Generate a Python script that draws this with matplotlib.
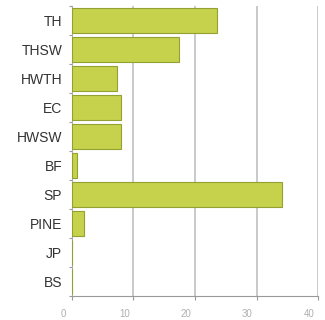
import matplotlib
matplotlib.use("Agg")
import matplotlib.pyplot as plt
import matplotlib.transforms as mtransforms
import numpy as np

categories = ["TH", "THSW", "HWTH", "EC", "HWSW", "BF", "SP", "PINE", "JP", "BS"]
values = [23.6, 17.4, 7.3, 8.0, 7.9, 0.8, 34.1, 1.9, 0.0, 0.0]
x_ticks = [0, 10, 20, 30, 40]

plt.rcParams["font.family"] = ["Liberation Sans", "DejaVu Sans"]

fig = plt.figure(figsize=(3.25, 3.2), dpi=100)
ax = fig.add_axes([0.2215, 0.075, 0.757, 0.906])

y = np.arange(len(categories))
ax.barh(y, values, height=0.88, color="#c6d24c", edgecolor="#93a132",
        linewidth=0.8, zorder=3)

ax.set_ylim(len(categories) - 0.5, -0.5)
ax.set_xlim(0, 40)

ax.set_yticks(y)
ax.set_yticklabels(categories, fontsize=10, color="#333333")
ax.set_yticks(np.arange(len(categories) + 1) - 0.5, minor=True)
ax.tick_params(axis="y", which="major", length=0, pad=7)
ax.tick_params(axis="y", which="minor", length=2, color="#999999", width=0.8)

ax.set_xticks(x_ticks)
ax.set_xticklabels([str(t) for t in x_ticks], fontsize=7, color="#b0b0b0")
ax.tick_params(axis="x", length=3, color="#999999", width=0.8, pad=6.5)
shift = mtransforms.ScaledTranslation(-9 / 100, 0, fig.dpi_scale_trans)
for lbl in ax.get_xticklabels():
    lbl.set_transform(lbl.get_transform() + shift)

ax.grid(axis="x", color="#c0c0c0", linewidth=1.2, zorder=0)
ax.set_axisbelow(True)

for side in ("top", "right"):
    ax.spines[side].set_visible(False)
ax.spines["left"].set_color("#aaaaaa")
ax.spines["bottom"].set_color("#999999")
ax.spines["left"].set_linewidth(0.8)
ax.spines["bottom"].set_linewidth(0.8)

fig.savefig("out.png", dpi=100, facecolor="white")
